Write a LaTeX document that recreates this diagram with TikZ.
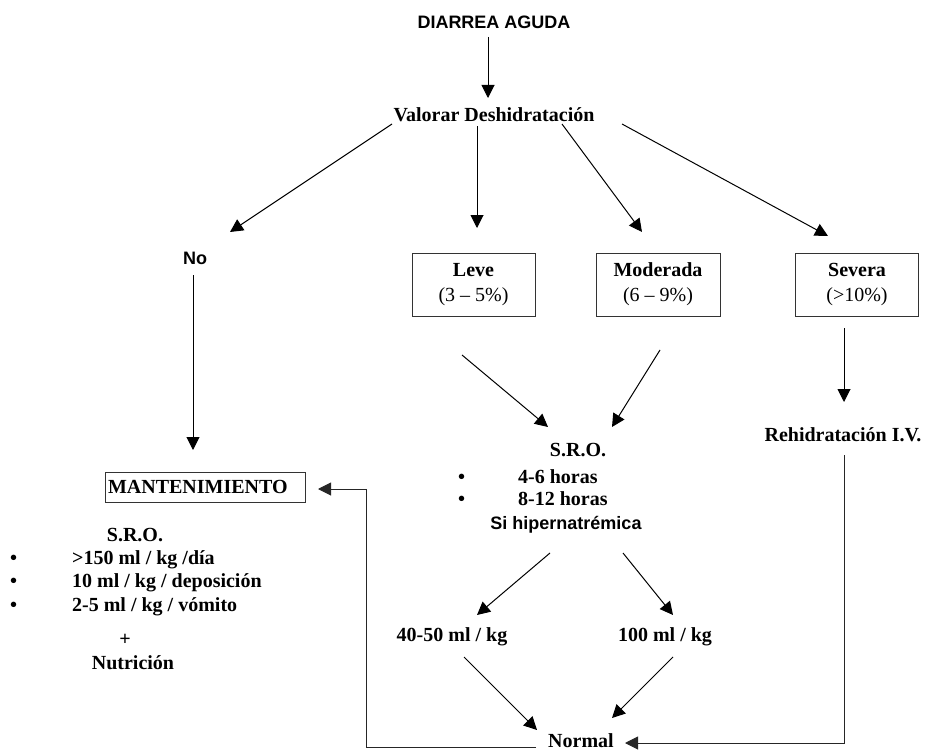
\documentclass[tikz,border=0pt]{standalone}
\usepackage{fontspec}
\setmainfont{Liberation Serif}
\newfontfamily\arialf{Liberation Sans}
\usetikzlibrary{arrows.meta}
\begin{document}
\begin{tikzpicture}[x=1pt,y=-1pt,
  every node/.style={inner sep=0pt},
  serif/.style={font=\fontsize{20}{25}\selectfont\bfseries},
  sans/.style={font=\fontsize{18}{22}\selectfont\arialf\bfseries},
  boxnode/.style={draw=black!80,line width=1pt,align=center,font=\fontsize{20}{25}\selectfont},
  item/.style={anchor=west,font=\fontsize{20}{24}\selectfont\bfseries},
  arr/.style={line width=1pt,-{Triangle[length=13pt,width=13pt]}},
  ln/.style={line width=1pt,draw=black!85}]
\useasboundingbox (0,0) rectangle (943,752);
% nodes
\node[sans] (diarrea) at (494,22) {DIARREA AGUDA};
\node[serif] (valorar) at (494,115) {Valorar Deshidratación};
\node[sans] (no) at (195,258) {No};
\node[boxnode,minimum width=123pt,minimum height=63pt] (leve) at (473.5,284.5) {\textbf{Leve}\\(3 – 5\%)};
\node[boxnode,minimum width=124pt,minimum height=63pt] (moderada) at (658,284.5) {\textbf{Moderada}\\(6 – 9\%)};
\node[boxnode,minimum width=123pt,minimum height=63pt] (severa) at (857,285) {\textbf{Severa}\\(>10\%)};
\node[boxnode,minimum width=200pt,minimum height=30pt,text width=194pt,align=left,font=\fontsize{20}{24}\selectfont\bfseries] (mant) at (205,487) {MANTENIMIENTO};
\node[serif] (mantsro) at (135,535) {S.R.O.};
\node[item] (m1) at (10,560) {\makebox[62pt][l]{\textbullet}>150 ml / kg /día};
\node[item] (m2) at (10,583) {\makebox[62pt][l]{\textbullet}10 ml / kg / deposición};
\node[item] (m3) at (10,607) {\makebox[62pt][l]{\textbullet}2-5 ml / kg / vómito};
\node[serif] (plus) at (125,640) {+};
\node[serif] (nutri) at (133,663) {Nutrición};
\node[serif] (sro) at (578,450) {S.R.O.};
\node[item] (s1) at (458,477) {\makebox[60pt][l]{\textbullet}4-6 horas};
\node[item] (s2) at (458,499) {\makebox[60pt][l]{\textbullet}8-12 horas};
\node[sans] (hiper) at (566,525) {Si hipernatrémica};
\node[serif] (rehid) at (843,435) {Rehidratación I.V.};
\node[serif] (l4050) at (452,637) {40-50 ml / kg};
\node[serif] (l100) at (665,637) {100 ml / kg};
\node[serif] (normal) at (581,741) {Normal};
\coordinate (lret) at (366,489);
% connectors
\draw[arr] ([shift={(-6,15)}]diarrea.center) -- ([shift={(-6,-17)}]valorar.center);
\draw[arr] ([shift={(-102,9)}]valorar.center) -- ([shift={(35,-26)}]no.center);
\draw[arr] ([shift={(-17,11)}]valorar.center) -- ([shift={(3.5,-56.5)}]leve.center);
\draw[arr] ([shift={(68,9)}]valorar.center) -- ([shift={(-16,-52.5)}]moderada.center);
\draw[arr] ([shift={(128,9)}]valorar.center) -- ([shift={(-29,-49)}]severa.center);
\draw[arr] ([shift={(-2,17)}]no.center) -- ([shift={(-12,-37)}]mant.center);
\draw[arr] ([shift={(-11.5,70.5)}]leve.center) -- ([shift={(-30,-23)}]sro.center);
\draw[arr] ([shift={(2,65.5)}]moderada.center) -- ([shift={(34,-23)}]sro.center);
\draw[arr] ([shift={(-13,43)}]severa.center) -- ([shift={(1,-33)}]rehid.center);
\draw[arr] ([shift={(-16,28)}]hiper.center) -- ([shift={(25,-22)}]l4050.center);
\draw[arr] ([shift={(57,28)}]hiper.center) -- ([shift={(8,-22)}]l100.center);
\draw[arr] ([shift={(12,20)}]l4050.center) -- ([shift={(-44,-11)}]normal.center);
\draw[arr] ([shift={(8,20)}]l100.center) -- ([shift={(31,-23)}]normal.center);
\draw[arr,ln] ([shift={(1,20)}]rehid.center) |- ([shift={(44,2)}]normal.center);
\draw[arr,ln] ([shift={(-45,6)}]normal.center) -| (lret) -- ([shift={(113,2)}]mant.center);
\end{tikzpicture}
\end{document}
